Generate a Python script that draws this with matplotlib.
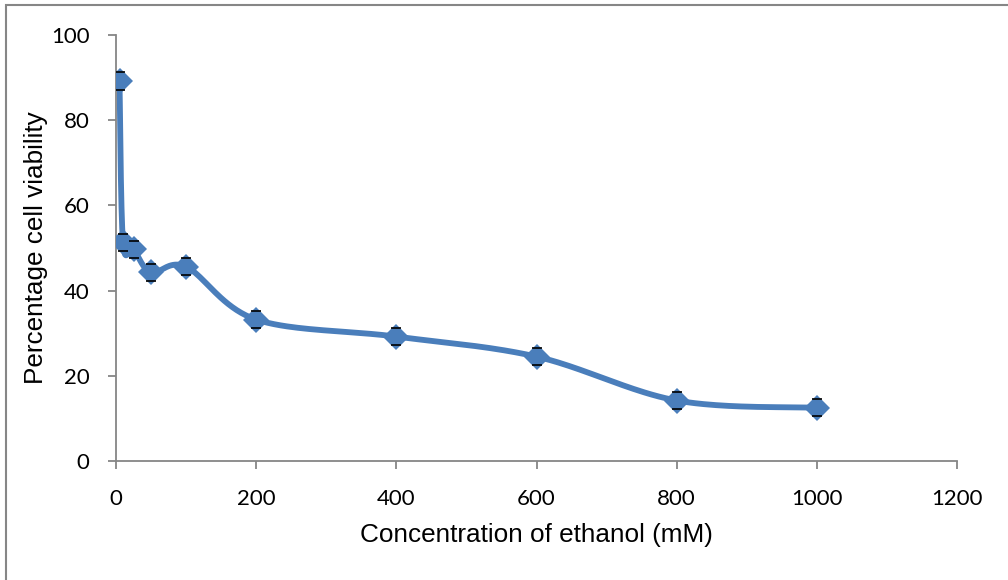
import numpy as np
import matplotlib.pyplot as plt
from matplotlib.patches import Rectangle

# Ethanol dose-response data
conc = [5, 10, 25, 50, 100, 200, 400, 600, 800, 1000]
viability = [89.2, 51.4, 49.7, 44.3, 45.6, 33.2, 29.2, 24.5, 14.2, 12.5]
err = [2, 2, 2, 2, 2, 2, 2, 2, 2, 2]
x_ticks = [0, 200, 400, 600, 800, 1000, 1200]
y_ticks = [0, 20, 40, 60, 80, 100]

blue = "#4A7EBB"
grey = "#868686"


def smooth_curve(xs, ys, n=40):
    # Bezier smoothing through the points (spreadsheet-style smoothed line)
    p = np.column_stack([xs, ys]).astype(float)
    p = np.vstack([p[0], p, p[-1]])
    out = []
    t = np.linspace(0, 1, n)[:, None]
    for i in range(1, len(p) - 2):
        p0, p1, p2, p3 = p[i - 1], p[i], p[i + 1], p[i + 2]
        c1 = p1 + (p2 - p0) / 6
        c2 = p2 - (p3 - p1) / 6
        seg = ((1 - t) ** 3) * p1 + 3 * ((1 - t) ** 2) * t * c1 + 3 * (1 - t) * t ** 2 * c2 + t ** 3 * p2
        out.append(seg)
    out = np.vstack(out)
    return out[:, 0], out[:, 1]


fig = plt.figure(figsize=(10.08, 5.8), dpi=100)
ax = fig.add_axes([116 / 1008, 1 - 461 / 580, (957 - 116) / 1008, (461 - 35) / 580])

sx, sy = smooth_curve(conc, viability)
ax.plot(sx, sy, color=blue, lw=4.2, solid_capstyle="round", zorder=2)
eb = ax.errorbar(conc, viability, yerr=err, fmt="none", ecolor="black", elinewidth=1.0,
                 capsize=3.6, capthick=1.2, zorder=3)
for cap in eb[1]:
    cap.set_zorder(5)
ax.plot(conc, viability, ls="none", marker="D", ms=13.5, color=blue, mec=blue, mew=0,
        zorder=4)

ax.set_xlim(0, 1200)
ax.set_ylim(0, 100)
ax.set_xticks(x_ticks)
ax.set_yticks(y_ticks)

for s in ["top", "right"]:
    ax.spines[s].set_visible(False)
for s in ["left", "bottom"]:
    ax.spines[s].set_color(grey)
    ax.spines[s].set_linewidth(1.3)
ax.tick_params(direction="out", length=6, width=1.3, color=grey, labelsize=16)
ax.tick_params(axis="y", pad=13)
ax.tick_params(axis="x", pad=14)
for lab in ax.get_xticklabels() + ax.get_yticklabels():
    lab.set_fontfamily("Lato")

ax.set_xlabel("Concentration of ethanol (mM)", fontsize=18.8, family="Liberation Sans", labelpad=10)
ax.set_ylabel("Percentage cell viability", fontsize=18.8, family="Liberation Sans", labelpad=2)

# chart area border
fig.patches.append(Rectangle((5.5 / 1008, -0.1), 1.2, 1.1 - 5.5 / 580,
                             transform=fig.transFigure, fill=False, ec=grey, lw=1.5))

fig.savefig("out.png", dpi=100)
